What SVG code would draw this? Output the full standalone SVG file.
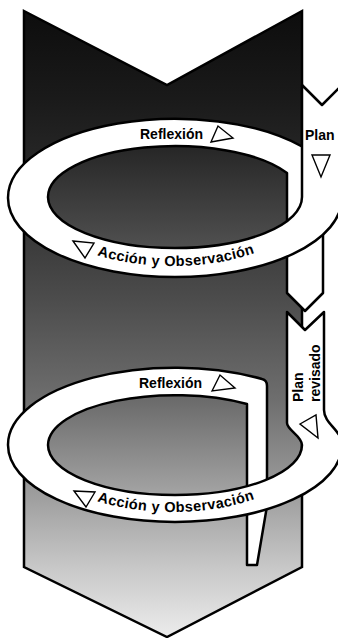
<svg xmlns="http://www.w3.org/2000/svg" width="338" height="638" viewBox="0 0 338 638">
<defs>
<linearGradient id="g" x1="0" y1="0" x2="0" y2="1">
<stop offset="0" stop-color="#0d0d0d"/>
<stop offset="0.14" stop-color="#1a1a1a"/>
<stop offset="0.30" stop-color="#2e2e2e"/>
<stop offset="0.46" stop-color="#4c4c4c"/>
<stop offset="0.62" stop-color="#6e6e6e"/>
<stop offset="0.78" stop-color="#a0a0a0"/>
<stop offset="0.89" stop-color="#c8c8c8"/>
<stop offset="1" stop-color="#ececec"/>
</linearGradient>
<linearGradient id="in1" x1="0" y1="0" x2="0" y2="1">
<stop offset="0" stop-color="#262626"/>
<stop offset="1" stop-color="#505050"/>
</linearGradient>
<linearGradient id="in2" x1="0" y1="0" x2="0" y2="1">
<stop offset="0" stop-color="#686868"/>
<stop offset="1" stop-color="#a4a4a4"/>
</linearGradient>
<clipPath id="c2"><rect x="0" y="380" width="267" height="130"/></clipPath>
<path id="ao1" d="M 70,244 C 120,271 215,276 278,243"/>
<path id="ao2" d="M 70,490 C 120,517 215,522 278,489"/>
</defs>
<style>
.rib{fill:#fff;stroke:none}
.edge{fill:none;stroke:#000;stroke-width:2.5;stroke-linejoin:round}
.lbl{font-family:"Liberation Sans",Arial,sans-serif;font-weight:bold;font-size:14px;fill:#000}
.ao{font-size:14.5px;letter-spacing:0.4px}
.tri{fill:#fff;stroke:#000;stroke-width:1.4;stroke-linejoin:miter}
</style>
<rect width="338" height="638" fill="#fff"/>
<g id="arrow">
<polygon points="24,11 167,85 302,11 302,567 167,637 24,567" fill="url(#g)" stroke="#000" stroke-width="2.5" stroke-linejoin="miter"/>
</g>
<g id="cycle1">
<ellipse cx="175" cy="197" rx="127" ry="51" fill="url(#in1)"/>
<g id="cycle1-back">
<path class="rib" d="M 8,198 A 167 79 0 0 1 303,147 L 323,160 L 323,293 L 305,311 L 287,293 L 287,173 A 127 51 0 0 0 48,197 Z"/>
<rect class="rib" x="11" y="191" width="35" height="14"/>
<path class="edge" d="M 48,197 A 127 51 0 0 1 287,173 L 287,293 L 305,311 L 323,293 L 323,160 L 303,147 A 167 79 0 0 0 8,198"/>
</g>
<g id="cycle1-front">
<path class="rib" d="M 302,85 L 322,105 L 342,85 L 342,198 A 167 79 0 0 1 8,198 L 48,197 A 127 51 0 0 0 302,197 Z"/>
<path class="edge" d="M 8,198 A 167 79 0 0 0 342,198 L 342,85 L 322,105 L 302,85 L 302,197 A 127 51 0 0 1 48,197"/>
</g>
<g id="plan">
<text class="lbl" x="305" y="140">Plan</text>
<polygon class="tri" points="312,155 330,155 321,177"/>
</g>
<g id="reflexion1">
<text class="lbl" x="140" y="139">Reflexión</text>
<polygon class="tri" points="211,142 218,126 233,138"/>
</g>
<g id="accion1">
<text class="lbl ao"><textPath href="#ao1" startOffset="51%" text-anchor="middle">Acción y Observación</textPath></text>
<polygon class="tri" points="73,241 94,243 85,258"/>
</g>
</g>
<g id="cycle2">
<ellipse cx="175" cy="445" rx="127" ry="50" fill="url(#in2)" clip-path="url(#c2)"/>
<g id="cycle2-back">
<path class="rib" d="M 8,445 A 167 77 0 0 1 262,379 Q 267,380 267,386 L 267,506 L 257,565 L 247,565 L 247,404 A 127 50 0 0 0 48,445 Z"/>
<rect class="rib" x="11" y="438" width="35" height="14"/>
<path class="edge" d="M 48,445 A 127 50 0 0 1 247,404 L 247,565 L 257,565 L 267,506 L 267,386 Q 267,380 262,379 A 167 77 0 0 0 8,445"/>
</g>
<g id="cycle2-front">
<path class="rib" d="M 287,312 L 305,330 L 324,312 L 324,410 C 324,424 342,430 342,445 A 167 77 0 0 1 8,445 L 48,445 A 127 50 0 0 0 302,445 C 302,436 287,430 287,423 Z"/>
<path class="edge" d="M 8,445 A 167 77 0 0 0 342,445 C 342,430 324,424 324,410 L 324,312 L 305,330 L 287,312 L 287,423 C 287,430 302,436 302,445 A 127 50 0 0 1 48,445"/>
</g>
<g id="plan-revisado">
<text class="lbl" transform="translate(303,402) rotate(-90)">Plan</text>
<text class="lbl" transform="translate(320,402) rotate(-90)">revisado</text>
<polygon class="tri" points="300,424 316,415 318,438"/>
</g>
<g id="reflexion2">
<text class="lbl" x="139" y="388">Reflexión</text>
<polygon class="tri" points="212,391 220,375 235,388"/>
</g>
<g id="accion2">
<text class="lbl ao"><textPath href="#ao2" startOffset="51%" text-anchor="middle">Acción y Observación</textPath></text>
<polygon class="tri" points="74,491 95,492 86,507"/>
</g>
</g>
<g id="connectors"/>
</svg>
